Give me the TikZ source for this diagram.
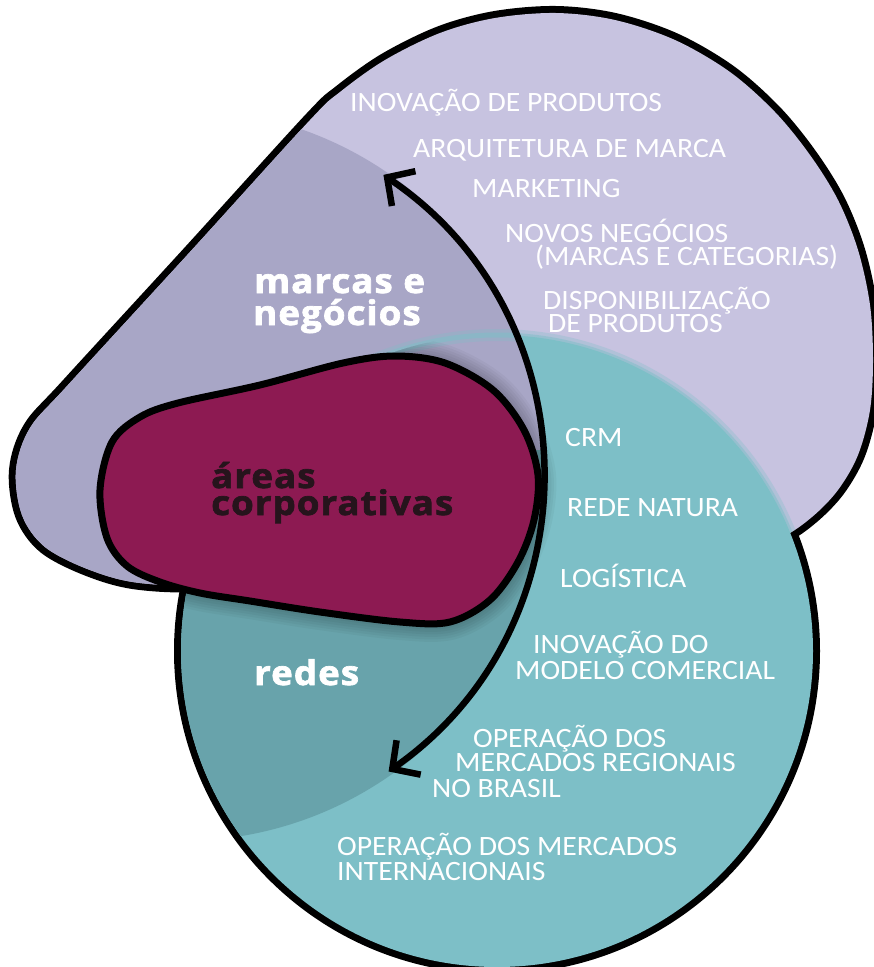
\documentclass[tikz,border=0pt]{standalone}
\usepackage{fontspec}
\setmainfont{Carlito}[FakeStretch=1.06]
\newfontfamily\labelfont{Open Sans}[LetterSpace=3,FakeBold=2,FakeStretch=1.08]
\usetikzlibrary{arrows.meta}
\definecolor{lilacL}{RGB}{199,195,224}
\definecolor{lilacD}{RGB}{168,166,198}
\definecolor{tealL}{RGB}{125,191,199}
\definecolor{tealD}{RGB}{104,163,171}
\definecolor{magA}{RGB}{141,26,82}
\definecolor{inkA}{RGB}{38,20,28}
\begin{document}
\begin{tikzpicture}[x=1pt,y=-1pt,
  listitem/.style={text=white,font=\fontsize{28}{30}\selectfont,anchor=base west,inner sep=0pt},
  biglabel/.style={font=\labelfont\bfseries\fontsize{34}{34}\selectfont,anchor=base west,inner sep=0pt},
  outline/.style={line width=7pt,draw=black,line join=round},
  shadowstroke/.style={draw=black,opacity=0.035,line join=round},
  arrowline/.style={line width=6.5pt,draw=black,
    {Straight Barb[length=20pt,width=42pt]}-{Straight Barb[length=20pt,width=42pt]}},
]
\useasboundingbox (0,0) rectangle (874,967);
% shapes
\path[save path=\purpleP] plot[smooth cycle,tension=0.55] coordinates {
 (782,537) (812,517) (838,490) (858,455) (870,410) (873,360) (870,305)
 (858,250) (838,200) (810,155) (775,112) (730,72) (675,40) (615,20)
 (556,13) (495,18) (440,33) (385,60) (340,92) (310,120) (190,252)
 (68,385) (30,428) (16,470) (22,515) (45,547) (90,570) (140,583)
 (220,585) (400,575) (600,555) (740,548)};
\path[save path=\tealP] (497,651) circle[radius=316pt];
\path[save path=\magP] plot[smooth cycle,tension=0.55] coordinates {
 (100,490) (112,442) (140,417) (178,403) (260,385) (343,363) (395,356)
 (445,363) (493,390) (524,430) (538,475) (534,520) (518,562) (490,600)
 (450,622) (400,622) (320,612) (250,601) (200,593) (160,582) (127,566) (107,538)};
% union outline (outer half of a double-width stroke)
\path[draw=black,line width=14pt,line join=round,use path=\purpleP];
\path[draw=black,line width=14pt,use path=\tealP];
\path[fill=lilacL,use path=\purpleP];
\path[fill=tealL,use path=\tealP];
% darker region left of the arrow
\begin{scope}
  \clip (181,475) circle[radius=366pt];
  \path[fill=lilacD,use path=\purpleP];
  \clip (0,450) rectangle (874,967);
  \path[fill=tealD,use path=\tealP];
\end{scope}
% soft upper edge of the teal circle inside the lilac shape
\begin{scope}
  \clip[use path=\purpleP];
  \path[draw=tealL,line width=12pt,opacity=0.3,use path=\tealP];
  \path[draw=tealL,line width=5pt,opacity=0.5,use path=\tealP];
\end{scope}
% soft shadow of the blob on the teal circle
\begin{scope}
  \clip[use path=\tealP];
  \begin{scope}[shift={(5,3)}]
    \foreach \w in {36,31,26,21,16,11}
      \path[shadowstroke,line width=\w pt,use path=\magP];
  \end{scope}
\end{scope}
% corporate areas blob
\path[outline,fill=magA,use path=\magP];
% arrow
\coordinate (arrTop) at (383.4,174.9);
\coordinate (arrBot) at (388.6,771.5);
\draw[arrowline] (arrTop) .. controls (594,317) and (596.6,625.7) .. (arrBot);
% labels
\node[biglabel,text=white] (lm1) at (254,293) {marcas e};
\node[biglabel,text=white] (lm2) at (253,325) {negócios};
\node[biglabel,text=inkA] (la1) at (211,488) {áreas};
\node[biglabel,text=inkA] (la2) at (211,515) {corporativas};
\node[biglabel,text=white] (lr) at (254,685) {redes};
% list items
\node[listitem] (i1) at (350,111) {INOVAÇÃO DE PRODUTOS};
\node[listitem] (i2) at (413,157) {ARQUITETURA DE MARCA};
\node[listitem] (i3) at (472,197) {MARKETING};
\node[listitem] (i4a) at (505,242) {NOVOS NEGÓCIOS};
\node[listitem] (i4b) at (535,265) {(MARCAS E CATEGORIAS)};
\node[listitem] (i5a) at (543,309) {DISPONIBILIZAÇÃO};
\node[listitem] (i5b) at (548,332) {DE PRODUTOS};
\node[listitem] (i6) at (565,446) {CRM};
\node[listitem] (i7) at (567,516) {REDE NATURA};
\node[listitem] (i8) at (560,587) {LOGÍSTICA};
\node[listitem] (i9a) at (533,653) {INOVAÇÃO DO};
\node[listitem] (i9b) at (515,679) {MODELO COMERCIAL};
\node[listitem] (i10a) at (473,747) {OPERAÇÃO DOS};
\node[listitem] (i10b) at (455,771) {MERCADOS REGIONAIS};
\node[listitem] (i10c) at (432,797) {NO BRASIL};
\node[listitem] (i11a) at (337,855) {OPERAÇÃO DOS MERCADOS};
\node[listitem] (i11b) at (337,880) {INTERNACIONAIS};
\end{tikzpicture}
\end{document}
